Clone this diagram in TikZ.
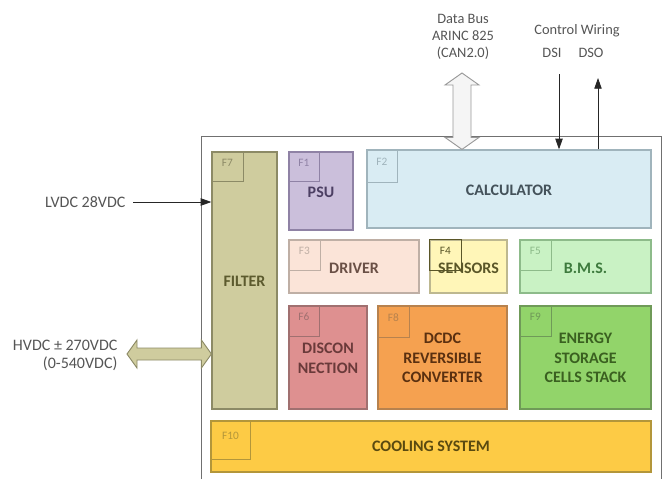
\documentclass[tikz,border=0pt]{standalone}
\usepackage{fontspec}
\setmainfont{Carlito}
\usetikzlibrary{arrows.meta,calc,fit}
\definecolor{filterF}{HTML}{CFCC9E}\definecolor{filterD}{HTML}{8C8A66}\definecolor{filterT}{HTML}{5C5A2E}
\definecolor{psuF}{HTML}{CBBFDB}\definecolor{psuD}{HTML}{8F82A5}\definecolor{psuT}{HTML}{4C3F63}
\definecolor{calcF}{HTML}{D9ECF3}\definecolor{calcD}{HTML}{A0B4BC}\definecolor{calcT}{HTML}{44525A}
\definecolor{drvF}{HTML}{FBE4D8}\definecolor{drvD}{HTML}{BFAFA5}\definecolor{drvT}{HTML}{6A5046}
\definecolor{senF}{HTML}{FFF6B8}\definecolor{senD}{HTML}{BDB890}\definecolor{senT}{HTML}{5A5628}
\definecolor{bmsF}{HTML}{C9F2C4}\definecolor{bmsD}{HTML}{8DBB8A}\definecolor{bmsT}{HTML}{3D7A3D}
\definecolor{disF}{HTML}{DE9090}\definecolor{disD}{HTML}{A07070}\definecolor{disT}{HTML}{6A3A3A}
\definecolor{dcF}{HTML}{F5A150}\definecolor{dcD}{HTML}{B7824E}\definecolor{dcT}{HTML}{5A3010}
\definecolor{enF}{HTML}{92D46A}\definecolor{enD}{HTML}{6F9A58}\definecolor{enT}{HTML}{3A6020}
\definecolor{coF}{HTML}{FDCB45}\definecolor{coD}{HTML}{B3963A}\definecolor{coT}{HTML}{5A4A10}
\definecolor{lblT}{HTML}{555555}
\definecolor{outerD}{HTML}{707070}
\begin{document}
\begin{tikzpicture}[x=0.75pt,y=-0.75pt,
  blk/.style={inner sep=0pt, line width=0.9pt},
  blktxt/.style={inner sep=0pt, align=center, font=\fontsize{12}{14.6}\selectfont\bfseries},
  tagbox/.style={draw, inner sep=0pt, line width=0.8pt, font=\fontsize{8.5}{9}\selectfont},
  lbl/.style={text=lblT, font=\fontsize{10.8}{12.6}\selectfont, inner sep=1pt},
  biglbl/.style={text=lblT, font=\fontsize{12}{13.5}\selectfont, inner sep=1pt},
  wire/.style={draw=black!85, line width=0.6pt},
  tip/.style={-{Triangle[length=8pt,width=5.5pt]}},
  fatarrow/.style={line width=0.7pt}
]
\useasboundingbox (0,0) rectangle (663,479);
% outer frame
\draw[outerD, line width=0.6pt] (201,479) -- (201,136) -- (661,136) -- (661,479);
% blocks
\node[blk, fill=filterF, draw=filterD, fit={(212,152) (277,409)}] (filter) {};
\node[blk, fill=psuF, draw=psuD, fit={(289,152) (353,230)}] (psu) {};
\node[blk, fill=calcF, draw=calcD, fit={(367,150) (651,228)}] (calc) {};
\node[blk, fill=drvF, draw=drvD, fit={(289,240) (419,293)}] (driver) {};
\node[blk, fill=senF, draw=senD, fit={(430,240) (507,293)}] (sensors) {};
\node[blk, fill=bmsF, draw=bmsD, fit={(520,240) (651,293)}] (bms) {};
\node[blk, fill=disF, draw=disD, fit={(289,306) (367,409)}] (discon) {};
\node[blk, fill=dcF, draw=dcD, fit={(378,306) (507,409)}] (dcdc) {};
\node[blk, fill=enF, draw=enD, fit={(520,306) (651,409)}] (energy) {};
\node[blk, fill=coF, draw=coD, fit={(211,421) (651,472)}] (cooling) {};
% tags
\node[tagbox, draw=filterD, text=filterD, fit={(filter.north west) ($(filter.north west)+(32,30)$)}] (t7) {F7};
\node[tagbox, draw=psuD, text=psuD, fit={(psu.north west) ($(psu.north west)+(31,30)$)}] (t1) {F1};
\node[tagbox, draw=calcD, text=calcD, fit={(calc.north west) ($(calc.north west)+(31,33)$)}] (t2) {F2};
\node[tagbox, draw=drvD, text=drvD, fit={(driver.north west) ($(driver.north west)+(32,31)$)}] (t3) {F3};
\node[tagbox, draw=senT, text=senT, fit={(sensors.north west) ($(sensors.north west)+(32,31)$)}] (t4) {F4};
\node[tagbox, draw=bmsD, text=bmsD, fit={(bms.north west) ($(bms.north west)+(32,31)$)}] (t5) {F5};
\node[tagbox, draw=disD, text=disD, fit={(discon.north west) ($(discon.north west)+(31,31)$)}] (t6) {F6};
\node[tagbox, draw=dcD, text=dcD, fit={(dcdc.north west) ($(dcdc.north west)+(32,32)$)}] (t8) {F8};
\node[tagbox, draw=enD, text=enD, fit={(energy.north west) ($(energy.north west)+(32,31)$)}] (t9) {F9};
\node[tagbox, draw=coD, text=coD, fit={(cooling.north west) ($(cooling.north west)+(40,39)$)}] (t10) {F10};
% block labels
\node[blktxt, text=filterT] (filterL) at ([yshift=-0.75pt]filter.center) {FILTER};
\node[blktxt, text=psuT] (psuL) at ([yshift=-0.75pt]psu.center) {PSU};
\node[blktxt, text=calcT] (calcL) at ([yshift=-0.75pt]calc.center) {CALCULATOR};
\node[blktxt, text=drvT] (driverL) at ([yshift=-1pt]driver.center) {DRIVER};
\node[blktxt, text=senT] (sensorsL) at ([yshift=-1pt]sensors.center) {SENSORS};
\node[blktxt, text=bmsT] (bmsL) at ([yshift=-1pt]bms.center) {B.M.S.};
\node[blktxt, text=disT] (disconL) at ([yshift=-0.5pt]discon.center) {DISCON\\NECTION};
\node[blktxt, text=dcT] (dcdcL) at ([yshift=-0.5pt]dcdc.center) {DCDC\\REVERSIBLE\\CONVERTER};
\node[blktxt, text=enT] (energyL) at ([yshift=-0.5pt]energy.center) {ENERGY\\STORAGE\\CELLS STACK};
\node[blktxt, text=coT] (coolingL) at (cooling.center) {COOLING SYSTEM};
% LVDC input
\node[biglbl, anchor=east] (lvdc) at (127,202) {LVDC 28VDC};
\draw[wire, tip, shorten <=4.5pt] (lvdc.east) -- (lvdc.east -| filter.west);
% HVDC bidirectional power
\node[biglbl, anchor=east, align=right] (hvdc) at (119,355) {HVDC ± 270VDC\\(0-540VDC)};
\coordinate (hvL) at (127,354);
\coordinate (hvR) at (hvL -| filter.west);
\draw[fatarrow, draw=filterD, fill=filterF] (hvL) -- ++(10,-14) -- ++(0,8) -- ($(hvR)+(-10,-6)$) -- ++(0,-8) -- (hvR)
  -- ++(-10,14) -- ++(0,-8) -- ($(hvL)+(10,6)$) -- ++(0,8) -- cycle;
% Data bus
\node[lbl, align=center] (dbus) at (463,37) {Data Bus\\ARINC 825\\(CAN2.0)};
\coordinate (dbT) at (462,73);
\coordinate (dbB) at (dbT |- calc.north);
\draw[fatarrow, draw=black!40, fill=black!4] (dbT) -- ++(17,12) -- ++(-8,0) -- ($(dbB)+(9,-12)$) -- ++(8,0) -- (dbB)
  -- ++(-17,-12) -- ++(8,0) -- ($(dbT)+(-9,12)$) -- ++(-8,0) -- cycle;
% Control wiring
\node[lbl] (ctrl) at (577,31) {Control Wiring};
\node[lbl] (dsi) at (552,53) {DSI};
\node[lbl] (dso) at (591,53) {DSO};
\coordinate (dsiS) at (559,74);
\coordinate (dsoS) at (598,78);
\draw[wire, tip] (dsiS) -- (dsiS |- calc.north);
\draw[wire, tip] (dsoS |- calc.north) -- (dsoS);
\end{tikzpicture}
\end{document}
